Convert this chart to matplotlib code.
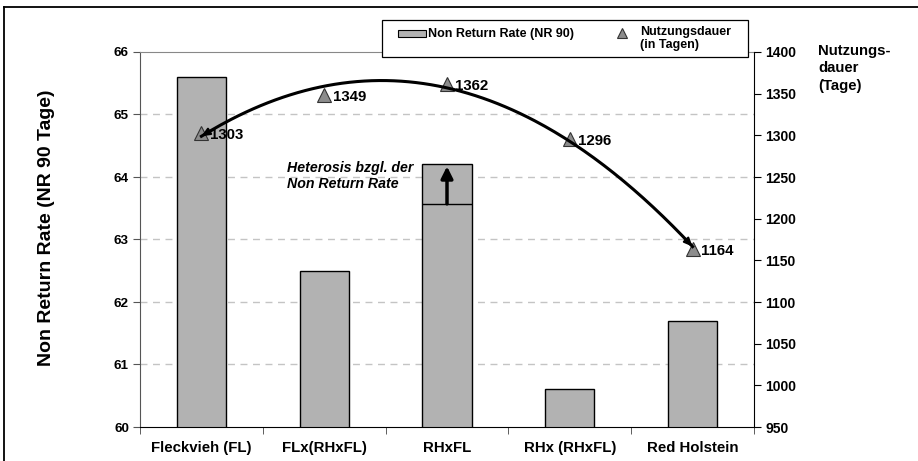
import numpy as np
import matplotlib.pyplot as plt
from matplotlib.lines import Line2D
from matplotlib.patches import Rectangle

plt.rcParams['font.family'] = ['Liberation Sans', 'DejaVu Sans']

categories = ['Fleckvieh (FL)', 'FLx(RHxFL)', 'RHxFL', 'RHx (RHxFL)', 'Red Holstein']
nr90 = [65.6, 62.5, 64.2, 60.6, 61.7]
nutzung = [1303, 1349, 1362, 1296, 1164]
heterosis_base = 63.57

W, H = 918, 461
fig = plt.figure(figsize=(W / 100, H / 100), dpi=100)


def fx(px):
    return px / W


def fy(py):
    return 1 - py / H


ax = fig.add_axes([fx(140), fy(427), fx(754) - fx(140), fy(52) - fy(427)])
x = np.arange(len(categories))

ax.bar(x, nr90, width=0.4, color='#b2b2b2', edgecolor='black', linewidth=1.0, zorder=2)
ax.set_xlim(-0.5, len(categories) - 0.5)
ax.set_ylim(60, 66)
ax.set_yticks(np.arange(60, 67, 1))
for g in range(61, 66):
    ax.axhline(g, color='#c4c4c4', lw=1, dashes=(5, 4), zorder=0)

ax.set_xticks(x)
ax.set_xticklabels(categories, fontsize=10.8, fontweight='bold')
ax.set_xticks(np.arange(-0.5, len(categories)), minor=True)
ax.tick_params(axis='x', which='major', length=0, pad=10)
ax.tick_params(axis='x', which='minor', length=5, direction='out', color='#444444')
ax.tick_params(axis='y', length=5, direction='out', color='#555555', labelsize=9.7, pad=3)
for lab in ax.get_yticklabels():
    lab.set_fontweight('bold')
ax.spines['left'].set_color('#555555')
ax.spines['top'].set_color('#888888')
ax.spines['right'].set_visible(False)
ax.spines['bottom'].set_color('black')

# heterosis marker in RHxFL bar
i = categories.index('RHxFL')
ax.hlines(heterosis_base, i - 0.2, i + 0.2, color='black', lw=1.0, zorder=3)
ax.annotate('', xy=(i, nr90[i] - 0.03), xytext=(i, heterosis_base),
            arrowprops=dict(arrowstyle='-|>,head_width=0.35,head_length=0.7',
                            lw=2.5, color='black', shrinkA=0, shrinkB=0), zorder=4)
ax.text(0.695, 64.25, 'Heterosis bzgl. der\nNon Return Rate', fontsize=10.2,
        fontweight='bold', style='italic', va='top', ha='left', linespacing=1.15)

# right axis: Nutzungsdauer
ax2 = ax.twinx()
ax2.set_ylim(950, 1400)
ax2.set_yticks(np.arange(950, 1401, 50))
ax2.tick_params(axis='y', length=5, direction='out', color='black', labelsize=10, pad=3)
for lab in ax2.get_yticklabels():
    lab.set_fontweight('bold')
for s in ['top', 'left', 'bottom']:
    ax2.spines[s].set_visible(False)
ax2.spines['right'].set_color('black')

ax2.plot(x, nutzung, '^', ms=10, mfc='#8c8c8c', mec='#333333', mew=0.8, zorder=3)

# trend curve (2nd order) with arrow heads
coef = np.polyfit(x, nutzung, 2)
xs = np.linspace(x[0], x[-1], 200)
ax2.plot(xs, np.polyval(coef, xs), color='black', lw=2.2, zorder=4)
for x_end, x_in in [(x[0], x[0] + 0.06), (x[-1], x[-1] - 0.06)]:
    ax2.annotate('', xy=(x_end, np.polyval(coef, x_end)),
                 xytext=(x_in, np.polyval(coef, x_in)),
                 arrowprops=dict(arrowstyle='-|>,head_width=0.22,head_length=0.5',
                                 lw=1.5, color='black', shrinkA=0, shrinkB=0), zorder=5)

for xi, v in zip(x, nutzung):
    ax2.annotate(f'{v}', (xi, v), xytext=(6, -1.5), textcoords='offset points',
                 fontsize=10.8, fontweight='bold', va='center', ha='left', zorder=6)

# axis titles
fig.text(fx(47), fy(228), 'Non Return Rate (NR 90 Tage)', rotation=90,
         fontsize=14, fontweight='bold', ha='center', va='center')
fig.text(fx(818), fy(44), 'Nutzungs-\ndauer\n(Tage)', fontsize=10.7,
         fontweight='bold', ha='left', va='top', linespacing=1.3)

# legend box
fig.add_artist(Rectangle((fx(382), fy(57)), fx(748) - fx(382), fy(20) - fy(57),
                         transform=fig.transFigure, facecolor='white',
                         edgecolor='black', lw=0.9, zorder=10))
fig.add_artist(Rectangle((fx(398), fy(37)), fx(426) - fx(398), fy(30) - fy(37),
                         transform=fig.transFigure, facecolor='#b2b2b2',
                         edgecolor='black', lw=0.8, zorder=11))
fig.text(fx(428), fy(33.5), 'Non Return Rate (NR 90)', fontsize=9, fontweight='bold',
         ha='left', va='center', zorder=11)
fig.add_artist(Line2D([fx(622)], [fy(33)], marker='^', ms=7, mfc='#8c8c8c',
                      mec='#333333', mew=0.8, transform=fig.transFigure, zorder=11))
fig.text(fx(640), fy(26), 'Nutzungsdauer\n(in Tagen)', fontsize=9, fontweight='bold',
         ha='left', va='top', linespacing=1.1, zorder=11)

# outer frame (top and left)
fig.add_artist(Line2D([fx(4), 1], [fy(7), fy(7)], color='black', lw=1.3,
                      transform=fig.transFigure))
fig.add_artist(Line2D([fx(4), fx(4)], [fy(7), 0], color='black', lw=1.3,
                      transform=fig.transFigure))

fig.savefig('out.png', dpi=100)
